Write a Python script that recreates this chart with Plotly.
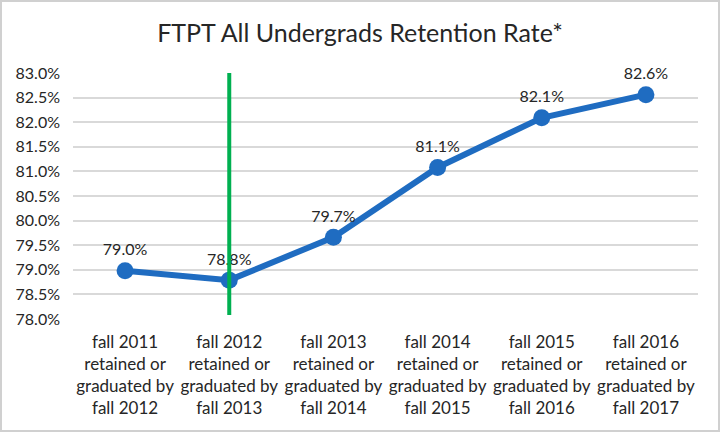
import plotly.graph_objects as go

# cohort labels and retention rates (%)
categories = [
    "fall 2011<br>retained or<br>graduated by<br>fall 2012",
    "fall 2012<br>retained or<br>graduated by<br>fall 2013",
    "fall 2013<br>retained or<br>graduated by<br>fall 2014",
    "fall 2014<br>retained or<br>graduated by<br>fall 2015",
    "fall 2015<br>retained or<br>graduated by<br>fall 2016",
    "fall 2016<br>retained or<br>graduated by<br>fall 2017",
]
retention = [78.98, 78.79, 79.66, 81.08, 82.09, 82.56]
labels = ["79.0%", "78.8%", "79.7%", "81.1%", "82.1%", "82.6%"]

# green marker line drawn at the fall 2012 cohort
marker_cat = categories[1]
marker_span = [78.08, 83.0]

yticks = [78.0, 78.5, 79.0, 79.5, 80.0, 80.5, 81.0, 81.5, 82.0, 82.5, 83.0]

fig = go.Figure()

fig.add_trace(go.Scatter(
    x=categories, y=retention, mode="lines+markers+text",
    text=labels, textposition="top center",
    textfont=dict(size=16, color="#262626"),
    line=dict(color="#1f6cc1", width=6),
    marker=dict(color="#1f6cc1", size=17),
    cliponaxis=False, showlegend=False,
))

fig.add_trace(go.Scatter(
    x=[marker_cat, marker_cat], y=marker_span, mode="lines",
    line=dict(color="#00b050", width=4),
    showlegend=False, hoverinfo="skip",
))

W, H = 720, 432
l, r, t, b = 73, 22, 73, 113
pw, ph = W - l - r, H - t - b

fig.update_layout(
    width=W, height=H,
    margin=dict(l=l, r=r, t=t, b=b),
    paper_bgcolor="white", plot_bgcolor="white",
    font=dict(family="Lato, Open Sans, sans-serif", color="#404040"),
    title=dict(text="FTPT All Undergrads Retention Rate*", x=0.5, xanchor="center",
               y=1 - 33 / H, yanchor="middle",
               font=dict(size=25, color="#262626")),
    xaxis=dict(type="category", range=[-0.5, 5.5], showgrid=False,
               showline=False, ticks="", ticklabelstandoff=11,
               tickfont=dict(size=17, color="#262626")),
    yaxis=dict(range=[78, 83], tickvals=yticks, ticktext=[f"{v:.1f}%" for v in yticks],
               showgrid=True, gridcolor="#d9d9d9", gridwidth=2, zeroline=False,
               showline=False, ticks="", ticklabelstandoff=12,
               tickfont=dict(size=16, color="#262626")),
    shapes=[dict(type="rect", xref="paper", yref="paper",
                 x0=-(l - 1) / pw, x1=1 + (r - 1) / pw,
                 y0=-(b - 1) / ph, y1=1 + (t - 1) / ph,
                 line=dict(color="#d0d0d0", width=2), layer="below")],
)

fig.write_html("out.html", config={"displayModeBar": False},
               post_script="document.body.style.margin='0';")
